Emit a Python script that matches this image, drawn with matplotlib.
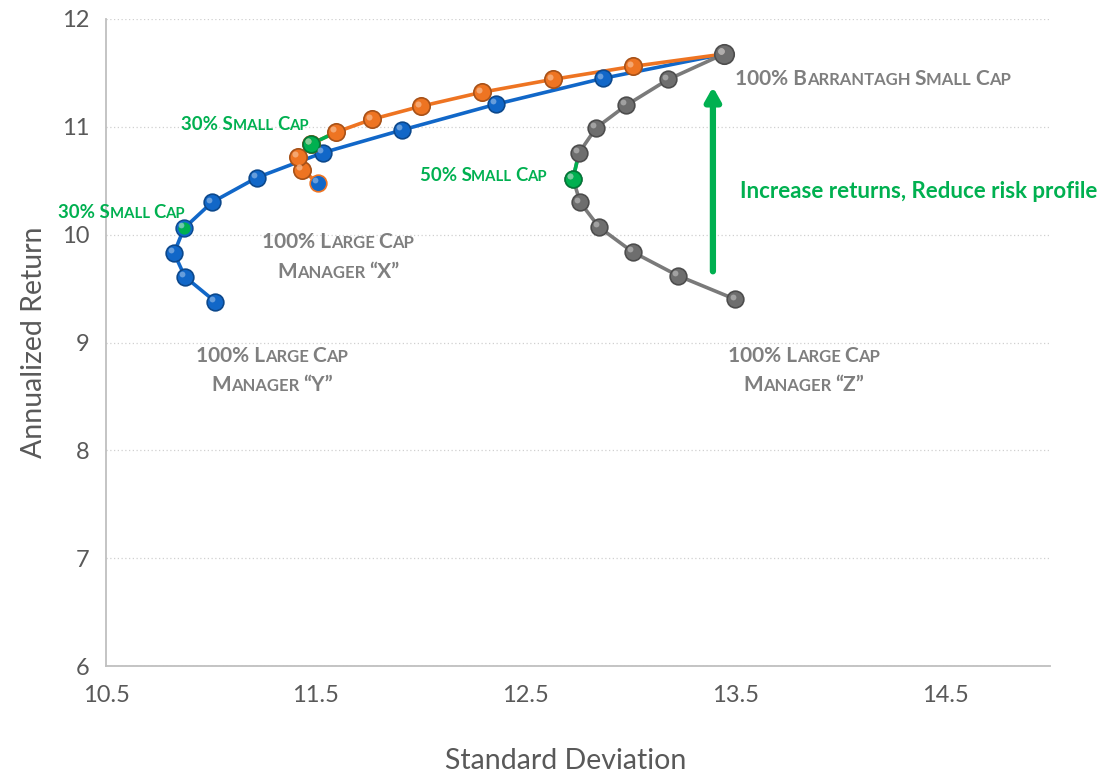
import matplotlib
matplotlib.use('Agg')
import matplotlib.pyplot as plt
from matplotlib.offsetbox import TextArea, HPacker, VPacker, AnnotationBbox
from matplotlib.transforms import ScaledTranslation

plt.rcParams['font.family'] = ['Lato', 'DejaVu Sans']

# Small cap weight in each blend, 0% .. 100%
small_cap_pct = [0, 10, 20, 30, 40, 50, 60, 70, 80, 90, 100]

# Manager "Y" + small cap (blue)
y_sd = [11.02, 10.876, 10.824, 10.872, 11.005, 11.22, 11.534, 11.91, 12.36, 12.87, 13.445]
y_ret = [9.38, 9.61, 9.83, 10.06, 10.30, 10.53, 10.76, 10.97, 11.21, 11.45, 11.675]

# Manager "X" + small cap (orange)
x_sd = [11.51, 11.434, 11.415, 11.477, 11.596, 11.768, 12.00, 12.29, 12.63, 13.01, 13.445]
x_ret = [10.48, 10.60, 10.72, 10.84, 10.95, 11.07, 11.19, 11.32, 11.44, 11.56, 11.675]

# Manager "Z" + small cap (gray)
z_sd = [13.50, 13.226, 13.01, 12.85, 12.76, 12.726, 12.755, 12.836, 12.98, 13.18, 13.445]
z_ret = [9.40, 9.62, 9.84, 10.07, 10.30, 10.52, 10.76, 10.99, 11.20, 11.44, 11.675]

xticks = [10.5, 11.5, 12.5, 13.5, 14.5]
yticks = [6, 7, 8, 9, 10, 11, 12]

BLUE = '#1167C8'
ORANGE = '#EE7422'
GRAY = '#7A7A7A'
GREEN = '#00B050'
TXT = '#595959'
LBL = '#7F7F7F'

fig = plt.figure(figsize=(11.01, 7.75), dpi=100)
ax = fig.add_axes([0.0963, 0.1406, 0.8574, 0.8349])


def shade(c, f):
    # darken a hex colour by factor f
    r, g, b = matplotlib.colors.to_rgb(c)
    return (r * f, g * f, b * f)


def lighten(c, f):
    r, g, b = matplotlib.colors.to_rgb(c)
    return (r + (1 - r) * f, g + (1 - g) * f, b + (1 - b) * f)


hl = ax.transData + ScaledTranslation(-2 / 72, 2 / 72, fig.dpi_scale_trans)


def spheres(xs, ys, col, size=12, face=None, edge=None):
    face = face or col
    edge = edge or shade(col, 0.7)
    ax.plot(xs, ys, 'o', ms=size, mfc=face, mec=edge, mew=1.2, zorder=4)
    ax.plot(xs, ys, 'o', ms=size * 0.35, mfc=lighten(face, 0.45), mec='none',
            alpha=0.8, transform=hl, zorder=5)


# lines
ax.plot(y_sd, y_ret, color=BLUE, lw=2.6, zorder=3)
ax.plot(x_sd, x_ret, color=ORANGE, lw=2.6, zorder=3)
ax.plot(x_sd[3:5], x_ret[3:5], color=GREEN, lw=2.6, zorder=3)
ax.plot(z_sd, z_ret, color=GRAY, lw=2.6, zorder=3)
ax.plot(z_sd[5:7], z_ret[5:7], color=GREEN, lw=2.6, zorder=3)

# markers
spheres(y_sd, y_ret, BLUE)
spheres(x_sd[1:], x_ret[1:], ORANGE, size=12.5)
spheres(x_sd[:1], x_ret[:1], ORANGE, face=BLUE, edge=ORANGE)
spheres(z_sd, z_ret, '#6E6E6E')
spheres(z_sd[-1:], z_ret[-1:], '#6E6E6E', size=14)
spheres(y_sd[3:4], y_ret[3:4], GREEN, size=10, edge=BLUE)
spheres(x_sd[3:4], x_ret[3:4], GREEN)
spheres(z_sd[5:6], z_ret[5:6], GREEN)

# arrow
ax.annotate('', xy=(13.393, 11.37), xytext=(13.393, 9.66),
            arrowprops=dict(arrowstyle='-|>,head_width=0.45,head_length=0.8',
                            lw=4.5, color=GREEN, shrinkA=0, shrinkB=0))


def sc_row(text, size, color):
    # fake small caps: lowercase letters as smaller capitals
    parts = []
    cur, big = '', None
    for ch in text:
        b = not ch.islower()
        if big is None or b == big or ch == ' ':
            cur += ch
            if big is None:
                big = b
        else:
            parts.append((cur, big))
            cur, big = ch, b
    parts.append((cur, big))
    boxes = [TextArea(t.upper(), textprops=dict(fontsize=size if b else size * 0.8,
                                               color=color, fontweight='bold'))
             for t, b in parts]
    return HPacker(children=boxes, pad=0, sep=0, align='baseline')


def sc_label(lines, xy, size, color, align=(0.5, 0.5)):
    rows = [sc_row(l, size, color) for l in lines]
    box = VPacker(children=rows, pad=0, sep=7, align='center')
    ab = AnnotationBbox(box, xy, xycoords='data', box_alignment=align,
                        frameon=False, pad=0, annotation_clip=False)
    ax.add_artist(ab)


sc_label(['100% Barrantagh Small Cap'], (13.50, 11.445), 15, LBL, (0, 0.5))
sc_label(['30% Small Cap'], (11.163, 11.02), 13.4, GREEN)
sc_label(['30% Small Cap'], (10.877, 10.21), 13.4, GREEN, (1, 0.5))
sc_label(['50% Small Cap'], (12.602, 10.55), 13.4, GREEN, (1, 0.5))
sc_label(['100% Large Cap', 'Manager \u201cX\u201d'], (11.606, 9.79), 15, LBL)
sc_label(['100% Large Cap', 'Manager \u201cY\u201d'], (11.291, 8.74), 15, LBL)
sc_label(['100% Large Cap', 'Manager \u201cZ\u201d'], (13.827, 8.74), 15, LBL)

ax.text(13.522, 10.40, 'Increase returns, Reduce risk profile', color=GREEN,
        fontsize=16, fontweight='bold', va='center', ha='left', clip_on=False)

ax.set_xlim(10.5, 15)
ax.set_ylim(6, 12)
ax.set_xticks(xticks)
ax.set_yticks(yticks)
ax.set_xticklabels([str(v) for v in xticks])
ax.tick_params(length=0, labelsize=17, colors=TXT, pad=14)
ax.tick_params(axis='y', pad=12)
ax.grid(axis='y', color='#D0D0D0', ls=(0, (1, 2)), lw=0.9)
ax.set_axisbelow(True)
for s in ['top', 'right']:
    ax.spines[s].set_visible(False)
for s in ['left', 'bottom']:
    ax.spines[s].set_color('#BFBFBF')
    ax.spines[s].set_linewidth(1.3)

ax.set_xlabel('Standard Deviation', fontsize=20.5, color=TXT)
ax.xaxis.set_label_coords(0.487, -0.147)
ax.xaxis.label.set_va('center')
ax.set_ylabel('Annualized Return', fontsize=20.5, color=TXT, labelpad=11)

fig.savefig('out.png', dpi=100)
